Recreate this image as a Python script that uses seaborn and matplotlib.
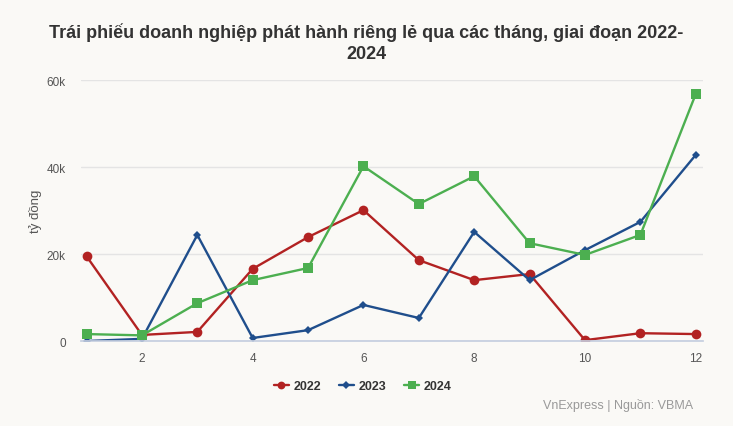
import matplotlib
matplotlib.use("Agg")
import matplotlib.pyplot as plt
import seaborn as sns
import pandas as pd

months = list(range(1, 13))
v2022 = [19.5, 1.4, 2.1, 16.6, 23.9, 30.1, 18.6, 14.0, 15.4, 0.2, 1.8, 1.6]
v2023 = [0.0, 0.5, 24.4, 0.7, 2.5, 8.3, 5.3, 25.1, 14.0, 20.9, 27.4, 42.8]
v2024 = [1.6, 1.3, 8.7, 14.0, 16.8, 40.2, 31.5, 37.9, 22.5, 19.8, 24.4, 56.8]
series = ["2022", "2023", "2024"]
yticks = [0, 20, 40, 60]
ytick_labels = ["0", "20k", "40k", "60k"]
xticks = [2, 4, 6, 8, 10, 12]

df = pd.DataFrame({
    "month": months * 3,
    "value": [v * 1000 for v in v2022 + v2023 + v2024],
    "year": sum([[s] * 12 for s in series], []),
})

sns.set_theme(style="white")
plt.rcParams['font.family'] = ['Liberation Sans', 'DejaVu Sans']
bg = "#faf9f6"
fig = plt.figure(figsize=(7.33, 4.27), dpi=100, facecolor=bg)
ax = fig.add_axes([0.1105, 0.199, 0.8485, 0.611], facecolor=bg)

palette = {"2022": "#b22222", "2023": "#1f4e8c", "2024": "#4caf50"}
markers = {"2022": "o", "2023": "D", "2024": "s"}
sizes = {"2022": 7, "2023": 4.5, "2024": 6.5}
for s in series:
    sub = df[df.year == s]
    sns.lineplot(data=sub, x="month", y="value", ax=ax, color=palette[s],
                 marker=markers[s], markersize=sizes[s], markeredgewidth=0,
                 linewidth=1.7, label=s)

ax.set_xlim(0.9, 12.13)
ax.set_ylim(0, 60000)
ax.set_yticks([t * 1000 for t in yticks])
ax.set_yticklabels(ytick_labels, fontsize=8.5, color="#555555")
ax.set_xticks(xticks)
ax.set_xticklabels([str(x) for x in xticks], fontsize=8.5, color="#555555")
ax.grid(axis="y", color="#e4e4e4", linewidth=1)
ax.set_axisbelow(True)
for sp in ["top", "right", "left"]:
    ax.spines[sp].set_visible(False)
ax.spines["bottom"].set_color("#c5cfe0")
ax.tick_params(axis="x", length=6, color="#c5cfe0", pad=2)
ax.tick_params(axis="y", length=0, pad=11)
ax.set_xlabel("")
ax.set_ylabel("tỷ đồng", fontsize=9.5, color="#555555", labelpad=3)

handles, labels = ax.get_legend_handles_labels()
ax.get_legend().remove()
leg = fig.legend(handles, labels, loc="center", bbox_to_anchor=(0.495, 0.093), ncol=3,
                 frameon=False, fontsize=9, handlelength=1.2, columnspacing=1.4,
                 handletextpad=0.4, markerscale=0.8)
for t in leg.get_texts():
    t.set_fontweight("bold")
    t.set_color("#333333")

fig.text(0.5, 0.945, "Trái phiếu doanh nghiệp phát hành riêng lẻ qua các tháng, giai đoạn 2022-\n2024",
         ha="center", va="top", fontsize=13, fontweight="bold", color="#333333",
         linespacing=1.3)
fig.text(0.945, 0.035, "VnExpress | Nguồn: VBMA", ha="right", va="bottom",
         fontsize=9, color="#999999")

fig.savefig("out.png", dpi=100, facecolor=bg)
